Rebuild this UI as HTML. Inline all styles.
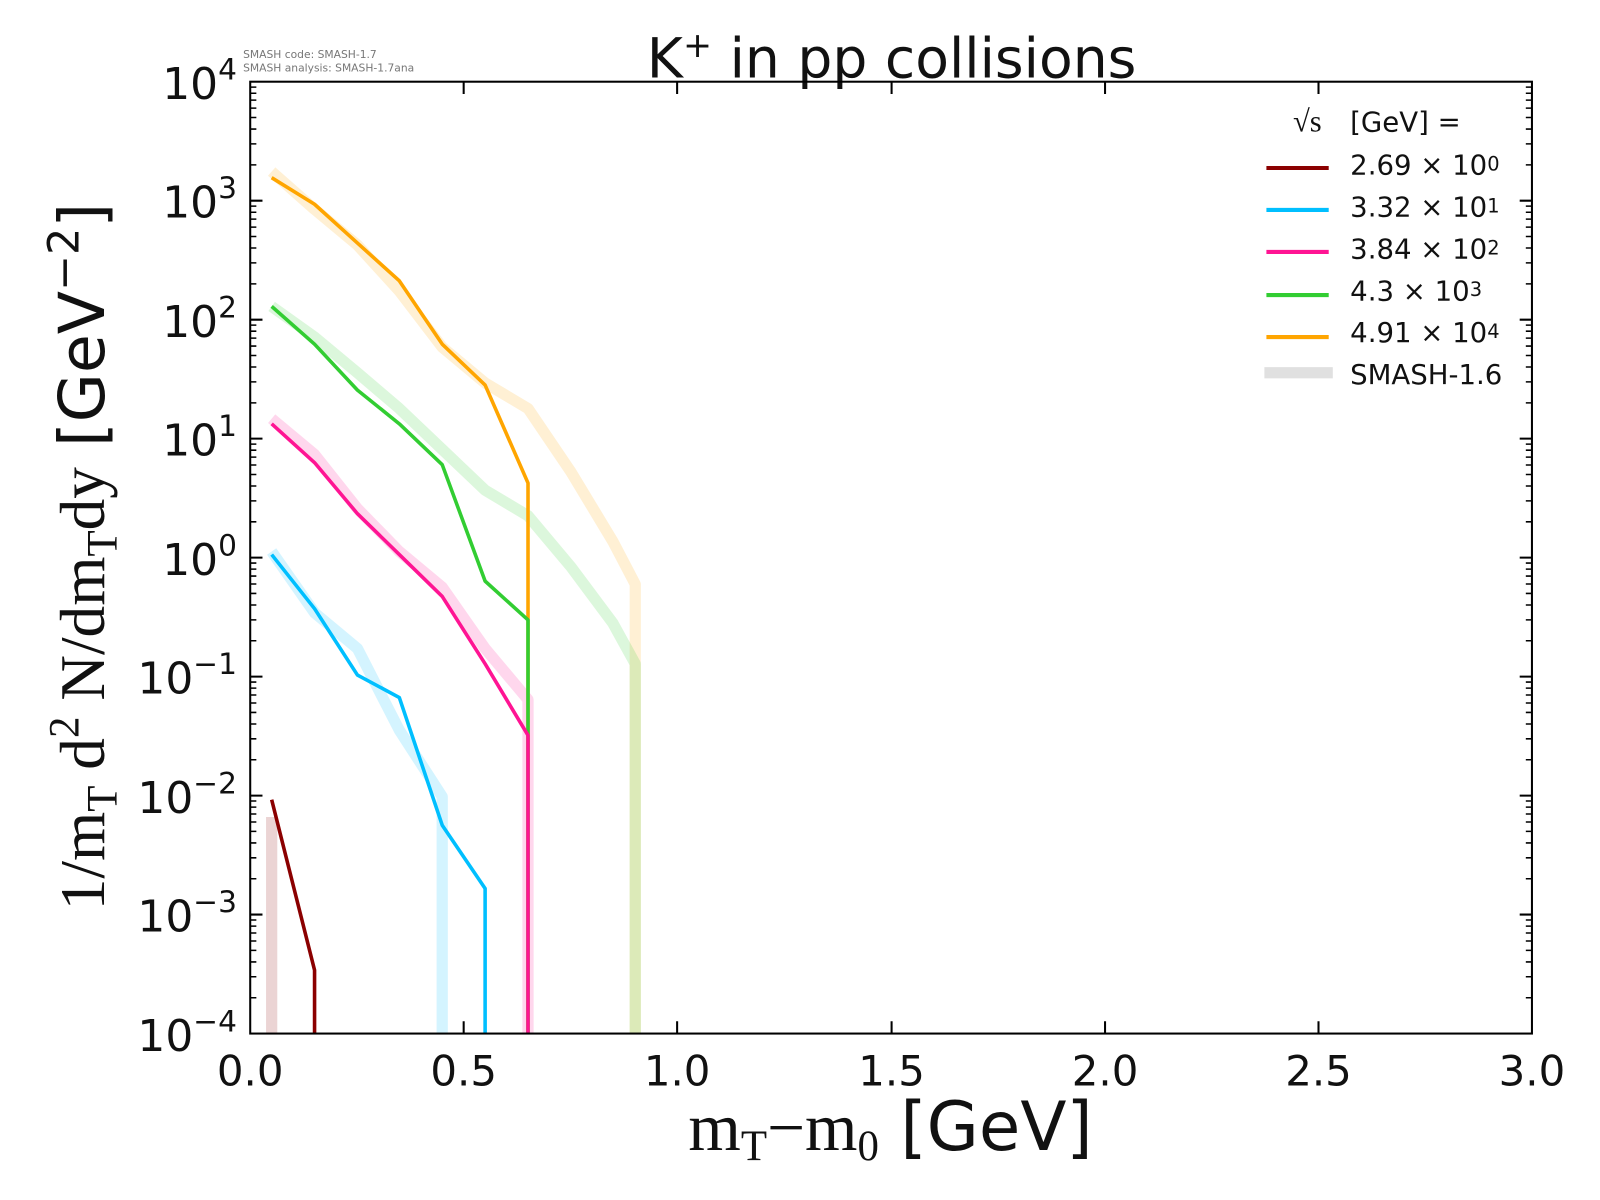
<!DOCTYPE html><html><head><style>body{margin:0;background:#fff}svg{display:block}</style></head><body>
<svg width="1600" height="1200" xmlns="http://www.w3.org/2000/svg" font-family="'DejaVu Sans','Liberation Sans',sans-serif">
<rect width="1600" height="1200" fill="#fff"/>
<g transform="scale(1.0213)">
<text x="238" y="57" font-size="10.5" fill="#777">SMASH code:      SMASH-1.7</text>
<text x="238" y="70" font-size="10.5" fill="#777">SMASH analysis: SMASH-1.7ana</text>
<text x="873" y="76" font-size="54" text-anchor="middle" fill="#111">K<tspan font-size="34" dy="-20">+</tspan><tspan dy="20"> in pp collisions</tspan></text>
<g fill="none" stroke-linejoin="round" stroke-opacity="0.17" stroke-width="11">
<polyline stroke="#ffa500" points="266,168 308,205 350,240 391,285 433,340 475,375 517,400 559,462 600,530 622,572 622,1012"/>
<polyline stroke="#32cd32" points="266,300 308,330 350,365 391,400 433,440 475,480 517,505 559,555 600,610 622,650 622,1012"/>
<polyline stroke="#ff1493" points="266,410 308,445 350,498 391,540 433,575 475,635 517,685 517,1012"/>
<polyline stroke="#00bfff" points="266,540 308,600 350,635 391,715 433,780 433,1012"/>
<polyline stroke="#8b0000" points="266,800 266,1012"/>
</g>
<g fill="none" stroke-linejoin="round" stroke-width="3.5">
<polyline stroke="#ffa500" points="266,174 308,200 350,238 391,275 433,337 475,377 517,473 517,1012"/>
<polyline stroke="#32cd32" points="266,300 308,337 350,382 391,415 433,455 475,569 517,607 517,1012"/>
<polyline stroke="#ff1493" points="266,415 308,453 350,503 391,543 433,584 475,650 517,720 517,1012"/>
<polyline stroke="#00bfff" points="266,543 308,596 350,661 391,683 433,808 475,870 475,1012"/>
<polyline stroke="#8b0000" points="266,783 308,950 308,1012"/>
</g>
<rect x="245" y="80" width="1255" height="932" fill="none" stroke="#000" stroke-width="2"/>
<g stroke="#000" stroke-width="2">
<path d="M454,1012v-12M663,1012v-12M873,1012v-12M1082,1012v-12M1291,1012v-12M454,80v12M663,80v12M873,80v12M1082,80v12M1291,80v12"/>
<path d="M245,196.5h12M245,313h12M245,429.5h12M245,546h12M245,662.5h12M245,779h12M245,895.5h12M1500,196.5h-12M1500,313h-12M1500,429.5h-12M1500,546h-12M1500,662.5h-12M1500,779h-12M1500,895.5h-12"/>
</g>
<g stroke="#000" stroke-width="1.5" id="m"></g>
<g font-size="43" fill="#111" text-anchor="end">
<text x="232" y="97">10<tspan font-size="29" dy="-19">4</tspan></text>
<text x="232" y="213">10<tspan font-size="29" dy="-19">3</tspan></text>
<text x="232" y="330">10<tspan font-size="29" dy="-19">2</tspan></text>
<text x="232" y="446">10<tspan font-size="29" dy="-19">1</tspan></text>
<text x="232" y="563">10<tspan font-size="29" dy="-19">0</tspan></text>
<text x="232" y="679">10<tspan font-size="29" dy="-19">−1</tspan></text>
<text x="232" y="796">10<tspan font-size="29" dy="-19">−2</tspan></text>
<text x="232" y="912">10<tspan font-size="29" dy="-19">−3</tspan></text>
<text x="232" y="1029">10<tspan font-size="29" dy="-19">−4</tspan></text>
</g>
<g font-size="41" fill="#111" text-anchor="middle">
<text x="245" y="1063">0.0</text><text x="454" y="1063">0.5</text><text x="663" y="1063">1.0</text><text x="873" y="1063">1.5</text><text x="1082" y="1063">2.0</text><text x="1291" y="1063">2.5</text><text x="1500" y="1063">3.0</text>
</g>
<text x="872" y="1126" font-size="66" text-anchor="middle" fill="#111"><tspan font-family="'Liberation Serif',serif">m<tspan font-size="42" dy="10">T</tspan><tspan dy="-10">−m</tspan><tspan font-size="42" dy="10">0</tspan></tspan><tspan dy="-10"> [GeV]</tspan></text>
<text transform="translate(102,545) rotate(-90)" font-size="62" text-anchor="middle" fill="#111"><tspan font-family="'Liberation Serif',serif">1/m<tspan font-size="42" dy="12">T</tspan><tspan dy="-12"> d</tspan><tspan font-size="42" dy="-25">2</tspan><tspan dy="25"> N/dm</tspan><tspan font-size="42" dy="12">T</tspan><tspan dy="-12">dy</tspan></tspan> [GeV<tspan font-size="42" dy="-25">−2</tspan><tspan dy="25">]</tspan></text>
<g font-size="27" fill="#111">
<text x="1266" y="129" font-family="'Liberation Serif',serif" font-size="30">√s</text>
<text x="1322" y="129">[GeV] =</text>
<text x="1322" y="171">2.69 × 10<tspan font-size="19" dy="-4">0</tspan></text>
<text x="1322" y="212">3.32 × 10<tspan font-size="19" dy="-4">1</tspan></text>
<text x="1322" y="253">3.84 × 10<tspan font-size="19" dy="-4">2</tspan></text>
<text x="1322" y="294">4.3 × 10<tspan font-size="19" dy="-4">3</tspan></text>
<text x="1322" y="335">4.91 × 10<tspan font-size="19" dy="-4">4</tspan></text>
<text x="1322" y="376">SMASH-1.6</text>
</g>
<g stroke-width="4">
<path d="M1240,164.5h61" stroke="#8b0000"/><path d="M1240,205.6h61" stroke="#00bfff"/><path d="M1240,246.7h61" stroke="#ff1493"/><path d="M1240,288.9h61" stroke="#32cd32"/><path d="M1240,330h61" stroke="#ffa500"/>
<path d="M1238,365h67" stroke="#e0e0e0" stroke-width="11"/>
</g>
</g>
<script>
var g=document.getElementById('m'),d='';
for(var k=0;k<8;k++){for(var j=2;j<10;j++){var y=1012-116.5*(k+Math.log10(j));d+='M245,'+y+'h6M1500,'+y+'h-6';}}
var p=document.createElementNS('http://www.w3.org/2000/svg','path');p.setAttribute('d',d);g.appendChild(p);
</script>
</svg></body></html>
